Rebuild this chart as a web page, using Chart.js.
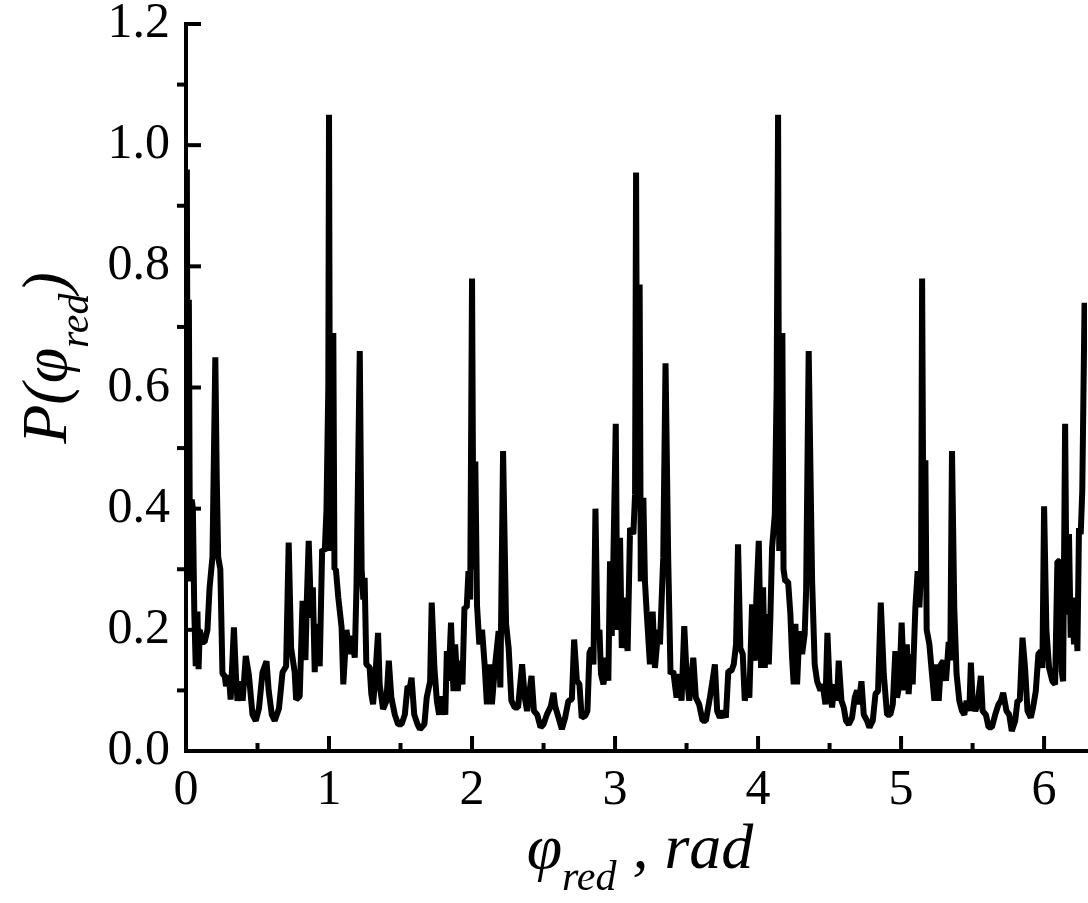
<!DOCTYPE html>
<html>
<head>
<meta charset="utf-8">
<script src="https://cdn.jsdelivr.net/npm/chart.js@4.4.1/dist/chart.umd.min.js"></script>
<style>
  html, body { margin: 0; padding: 0; background: #fff; }
  #wrap { position: relative; width: 1088px; height: 903px; }
</style>
</head>
<body>
<div id="wrap"><canvas id="c" width="1088" height="903"></canvas></div>
<script>
// phase values (rad)
const phaseValues = [
  0.000,0.006,0.012,0.020,0.028,0.040,0.048,0.058,0.068,0.080,0.088,0.096,0.112,0.130,0.150,0.165,0.185,0.205,0.215,0.225,
  0.240,0.255,0.270,0.280,0.300,0.312,0.335,0.350,0.360,0.383,0.396,0.418,0.440,0.465,0.488,0.510,0.535,0.563,0.578,0.600,
  0.620,0.650,0.675,0.700,0.718,0.735,0.760,0.770,0.795,0.815,0.835,0.845,0.858,0.875,0.887,0.900,0.910,0.935,0.952,0.970,
  0.982,0.995,1.000,1.008,1.018,1.030,1.038,1.048,1.065,1.088,1.100,1.122,1.145,1.160,1.180,1.192,1.215,1.228,1.240,1.249,
  1.261,1.284,1.296,1.308,1.320,1.343,1.354,1.378,1.401,1.418,1.436,1.460,1.483,1.507,1.530,1.549,1.565,1.577,1.596,1.619,
  1.636,1.667,1.683,1.707,1.718,1.737,1.754,1.770,1.789,1.813,1.824,1.836,1.853,1.870,1.882,1.900,1.917,1.933,1.947,1.963,
  1.975,1.987,2.000,2.010,2.023,2.035,2.051,2.070,2.088,2.104,2.121,2.139,2.162,2.186,2.198,2.217,2.238,2.256,2.275,2.298,
  2.322,2.350,2.369,2.385,2.416,2.433,2.456,2.479,2.500,2.523,2.535,2.551,2.570,2.581,2.605,2.628,2.651,2.674,2.698,2.714,
  2.733,2.751,2.767,2.791,2.807,2.821,2.837,2.849,2.863,2.877,2.891,2.902,2.919,2.937,2.953,2.965,2.977,2.988,3.005,3.016,
  3.035,3.047,3.063,3.077,3.088,3.105,3.128,3.140,3.147,3.156,3.165,3.172,3.180,3.198,3.209,3.221,3.244,3.263,3.279,3.302,
  3.314,3.337,3.353,3.372,3.388,3.407,3.430,3.449,3.465,3.484,3.500,3.519,3.547,3.565,3.588,3.612,3.635,3.663,3.681,3.698,
  3.714,3.733,3.756,3.775,3.792,3.813,3.830,3.846,3.860,3.876,3.893,3.907,3.923,3.939,3.958,3.977,3.988,4.005,4.021,4.035,
  4.047,4.058,4.075,4.086,4.098,4.117,4.130,4.140,4.148,4.158,4.170,4.178,4.190,4.210,4.226,4.238,4.249,4.261,4.273,4.289,
  4.308,4.326,4.336,4.354,4.378,4.396,4.413,4.436,4.452,4.471,4.485,4.499,4.517,4.536,4.552,4.564,4.583,4.599,4.615,4.634,
  4.657,4.676,4.692,4.704,4.723,4.739,4.762,4.779,4.802,4.821,4.839,4.858,4.879,4.902,4.925,4.942,4.960,4.972,4.988,5.004,
  5.023,5.040,5.053,5.070,5.081,5.100,5.116,5.128,5.140,5.147,5.157,5.170,5.179,5.198,5.216,5.233,5.249,5.263,5.279,5.295,
  5.314,5.333,5.344,5.356,5.372,5.388,5.407,5.426,5.442,5.458,5.477,5.488,5.500,5.519,5.535,5.558,5.570,5.593,5.612,5.635,
  5.658,5.681,5.698,5.714,5.737,5.756,5.774,5.798,5.814,5.830,5.849,5.867,5.884,5.907,5.923,5.942,5.960,5.977,5.988,6.000,
  6.016,6.035,6.058,6.077,6.093,6.109,6.123,6.133,6.147,6.158,6.174,6.186,6.198,6.209,6.221,6.233,6.244,6.256,6.267,6.283
];
// probability density P(phi_red)
const probValues = [
  0.30,0.96,0.40,0.745,0.28,0.415,0.40,0.23,0.14,0.23,0.135,0.20,0.18,0.18,0.20,0.27,0.32,0.65,0.45,0.32,
  0.30,0.127,0.125,0.107,0.125,0.085,0.204,0.12,0.083,0.115,0.083,0.157,0.125,0.06,0.05,0.07,0.13,0.148,0.10,0.06,
  0.05,0.07,0.13,0.14,0.344,0.17,0.13,0.085,0.09,0.248,0.15,0.25,0.347,0.22,0.27,0.13,0.21,0.14,0.333,0.33,
  0.396,0.60,1.05,0.33,0.55,0.69,0.30,0.30,0.253,0.204,0.11,0.20,0.16,0.19,0.154,0.27,0.66,0.30,0.25,0.286,
  0.143,0.138,0.094,0.077,0.11,0.195,0.11,0.069,0.082,0.149,0.088,0.06,0.044,0.044,0.06,0.107,0.104,0.121,0.06,0.044,
  0.036,0.044,0.088,0.115,0.245,0.137,0.083,0.06,0.09,0.06,0.165,0.116,0.212,0.099,0.176,0.099,0.149,0.11,0.237,0.237,
  0.297,0.25,0.78,0.30,0.478,0.24,0.176,0.20,0.143,0.077,0.143,0.077,0.143,0.198,0.105,0.495,0.21,0.17,0.083,0.072,
  0.072,0.143,0.088,0.066,0.124,0.066,0.06,0.039,0.044,0.06,0.066,0.074,0.096,0.074,0.055,0.036,0.055,0.083,0.085,0.184,
  0.116,0.11,0.055,0.058,0.066,0.162,0.17,0.143,0.40,0.187,0.20,0.127,0.11,0.154,0.116,0.313,0.19,0.313,0.54,0.20,
  0.352,0.17,0.253,0.19,0.165,0.368,0.358,0.424,0.955,0.40,0.60,0.77,0.28,0.418,0.28,0.23,0.143,0.23,0.137,0.20,
  0.176,0.32,0.64,0.313,0.127,0.132,0.088,0.127,0.083,0.206,0.127,0.083,0.154,0.088,0.077,0.05,0.05,0.088,0.115,0.143,
  0.066,0.055,0.066,0.055,0.132,0.132,0.143,0.176,0.341,0.17,0.16,0.083,0.11,0.088,0.242,0.149,0.253,0.347,0.137,0.27,
  0.137,0.226,0.143,0.22,0.336,0.39,0.60,1.05,0.33,0.55,0.69,0.30,0.28,0.28,0.226,0.154,0.11,0.21,0.11,0.198,
  0.16,0.193,0.264,0.66,0.28,0.143,0.115,0.10,0.11,0.077,0.195,0.115,0.072,0.11,0.083,0.149,0.083,0.072,0.05,0.044,
  0.055,0.088,0.10,0.077,0.115,0.06,0.05,0.039,0.05,0.094,0.099,0.245,0.127,0.06,0.06,0.077,0.165,0.088,0.11,0.212,
  0.10,0.176,0.094,0.16,0.11,0.237,0.297,0.237,0.30,0.78,0.30,0.48,0.20,0.176,0.127,0.083,0.143,0.083,0.143,0.149,
  0.116,0.18,0.15,0.495,0.236,0.127,0.083,0.066,0.06,0.083,0.066,0.146,0.083,0.066,0.077,0.124,0.066,0.06,0.039,0.039,
  0.06,0.077,0.083,0.096,0.066,0.06,0.033,0.05,0.083,0.083,0.187,0.137,0.066,0.055,0.072,0.099,0.16,0.165,0.137,0.404,
  0.20,0.137,0.115,0.11,0.313,0.313,0.132,0.115,0.54,0.225,0.358,0.187,0.253,0.176,0.248,0.165,0.368,0.358,0.43,0.74
];
const xTickValues = [0, 1, 2, 3, 4, 5, 6];
const xMinorTickValues = [0.5, 1.5, 2.5, 3.5, 4.5, 5.5];
const yTickValues = [0, 0.2, 0.4, 0.6, 0.8, 1.0, 1.2];
const yMinorTickValues = [0.1, 0.3, 0.5, 0.7, 0.9, 1.1];

const SERIF = '"Liberation Serif", "Times New Roman", serif';
const LABEL_FONT = { family: SERIF, size: 50 };

function drawRich(ctx, parts, cx, cy) {
  let total = 0;
  parts.forEach(p => { ctx.font = p.font; p.w = ctx.measureText(p.t).width; total += p.w; });
  let x = cx - total / 2;
  ctx.textBaseline = 'alphabetic';
  ctx.textAlign = 'left';
  parts.forEach(p => { ctx.font = p.font; ctx.fillText(p.t, x, cy + (p.dy || 0)); x += p.w; });
}

const decor = {
  id: 'decor',
  afterDraw(chart) {
    const ctx = chart.ctx;
    const xs = chart.scales.x, ys = chart.scales.y;
    const a = chart.chartArea;
    ctx.save();
    ctx.strokeStyle = '#000';
    ctx.lineWidth = 4;
    ctx.lineCap = 'butt';
    // x ticks (inward)
    xTickValues.forEach(v => {
      const px = xs.getPixelForValue(v);
      ctx.beginPath(); ctx.moveTo(px, a.bottom); ctx.lineTo(px, a.bottom - 15); ctx.stroke();
    });
    xMinorTickValues.forEach(v => {
      const px = xs.getPixelForValue(v);
      ctx.beginPath(); ctx.moveTo(px, a.bottom); ctx.lineTo(px, a.bottom - 8); ctx.stroke();
    });
    // y ticks: major inward, minor outward
    yTickValues.forEach(v => {
      const py = ys.getPixelForValue(v);
      ctx.beginPath(); ctx.moveTo(a.left, py); ctx.lineTo(a.left + 15, py); ctx.stroke();
    });
    yMinorTickValues.forEach(v => {
      const py = ys.getPixelForValue(v);
      ctx.beginPath(); ctx.moveTo(a.left, py); ctx.lineTo(a.left - 9, py); ctx.stroke();
    });
    // axis titles
    ctx.fillStyle = '#000';
    const big = 'italic 64px ' + SERIF;
    const small = 'italic 42px ' + SERIF;
    drawRich(ctx, [
      { t: '\u03C6', font: big },
      { t: 'red', font: small, dy: 22 },
      { t: ' , rad', font: big }
    ], 640, 868);
    ctx.translate(66, 358);
    ctx.rotate(-Math.PI / 2);
    drawRich(ctx, [
      { t: 'P(', font: big },
      { t: '\u03C6', font: big },
      { t: 'red', font: small, dy: 22 },
      { t: ')', font: big }
    ], 0, 0);
    ctx.restore();
  }
};

new Chart(document.getElementById('c'), {
  type: 'line',
  data: {
    datasets: [{
      data: phaseValues.map((x, i) => ({ x: x, y: probValues[i] })),
      borderColor: '#000',
      borderWidth: 6,
      borderJoinStyle: 'bevel',
      pointRadius: 0,
      tension: 0,
      fill: false
    }]
  },
  options: {
    responsive: false,
    animation: false,
    devicePixelRatio: 1,
    layout: { padding: { top: 24, right: 1, left: 0, bottom: 0 } },
    plugins: { legend: { display: false }, tooltip: { enabled: false } },
    scales: {
      x: {
        type: 'linear', min: 0, max: 6.3,
        afterBuildTicks: s => { s.ticks = xTickValues.map(v => ({ value: v })); },
        afterFit: s => { s.height = 152; s.paddingLeft = 0; s.paddingRight = 0; },
        grid: { display: false },
        border: { display: true, color: '#000', width: 4 },
        ticks: { color: '#000', font: LABEL_FONT, padding: 2, maxRotation: 0, callback: v => String(v) }
      },
      y: {
        type: 'linear', min: 0, max: 1.2,
        afterBuildTicks: s => { s.ticks = yTickValues.map(v => ({ value: v })); },
        afterFit: s => { s.width = 186; s.paddingTop = 0; s.paddingBottom = 0; },
        grid: { display: false },
        border: { display: true, color: '#000', width: 4 },
        ticks: { color: '#000', font: LABEL_FONT, padding: 8, callback: v => v.toFixed(1) }
      }
    }
  },
  plugins: [decor]
});
</script>
</body>
</html>
